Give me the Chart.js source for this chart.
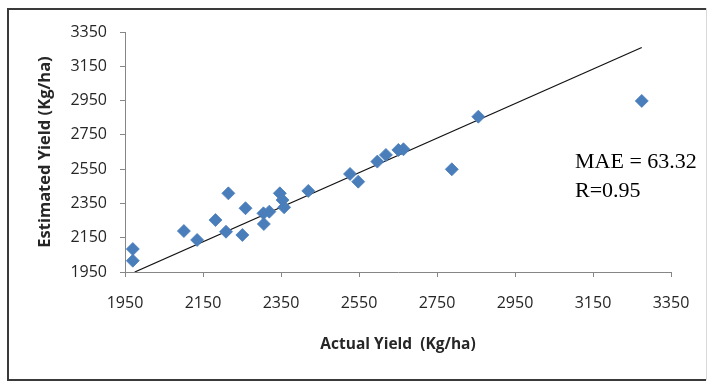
<!DOCTYPE html>
<html>
<head>
<meta charset="utf-8">
<script src="https://cdn.jsdelivr.net/npm/chart.js@4"></script>
<style>
  html, body { margin: 0; padding: 0; background: #fff; }
  #wrap { position: relative; width: 708px; height: 381px; }
</style>
</head>
<body>
<div id="wrap"><canvas id="yieldChart" width="708" height="381"></canvas></div>
<script>
const actualYield = [1970, 1970, 2101, 2135, 2182, 2209, 2215, 2251, 2259, 2305, 2306, 2320,
                     2347, 2354, 2358, 2420, 2527, 2548, 2597, 2619, 2651, 2664, 2788, 2856, 3275];
const estimatedYield = [2084, 2016, 2189, 2137, 2253, 2185, 2409, 2166, 2322, 2292, 2230, 2302,
                        2409, 2370, 2327, 2423, 2522, 2477, 2594, 2633, 2662, 2666, 2549, 2856, 2948];

// fitted line end points
const fitX = [1975, 3275];
const fitY = [1950, 3260];

const axisTicks = [1950, 2150, 2350, 2550, 2750, 2950, 3150, 3350];
const statLines = ['MAE = 63.32', 'R=0.95'];

const axisColor = '#868686';

const framePlugin = {
    id: 'frame',
    beforeDraw(chart) {
        const ctx = chart.ctx;
        ctx.save();
        ctx.fillStyle = '#fff';
        ctx.fillRect(0, 0, chart.width, chart.height);
        ctx.strokeStyle = '#d8d8d8';
        ctx.lineWidth = 1;
        ctx.beginPath();
        ctx.moveTo(706.5, 8);
        ctx.lineTo(706.5, 380);
        ctx.stroke();
        ctx.strokeStyle = '#3a3a3a';
        ctx.lineWidth = 2;
        ctx.beginPath();
        ctx.moveTo(706, 9);
        ctx.lineTo(8, 9);
        ctx.lineTo(8, 380);
        ctx.lineTo(706, 380);
        ctx.stroke();
        ctx.restore();
    },
    afterDraw(chart) {
        const ctx = chart.ctx;
        ctx.save();
        ctx.fillStyle = '#000';
        ctx.font = '22px "Liberation Serif", "Times New Roman", serif';
        ctx.textBaseline = 'alphabetic';
        ctx.fillText(statLines[0], 575, 168);
        ctx.fillText(statLines[1], 575, 197);
        ctx.restore();
    }
};

function axis(titleText, titleSize, extra) {
    return Object.assign({
        type: 'linear',
        min: 1950,
        max: 3350,
        afterBuildTicks: scale => {
            scale.ticks = axisTicks.map(v => ({ value: v }));
        },
        grid: {
            display: true,
            drawOnChartArea: false,
            drawTicks: true,
            tickLength: 5,
            color: axisColor
        },
        border: { display: true, color: axisColor, width: 1 },
        ticks: {
            color: '#262626',
            font: { family: '"Open Sans", sans-serif', size: 16 },
            callback: value => String(value)
        },
        title: {
            display: true,
            text: titleText,
            color: '#262626',
            font: { family: '"Open Sans", sans-serif', size: titleSize, weight: 'bold' }
        }
    }, extra);
}

const xAxis = axis('Actual Yield  (Kg/ha)', 15.5, {
    afterFit: scale => { scale.height = 109; }
});
xAxis.ticks.padding = 17;
xAxis.ticks.maxRotation = 0;
xAxis.title.padding = { top: 0, bottom: 27 };

const yAxis = axis('Estimated Yield (Kg/ha)', 16.5, {
    afterFit: scale => { scale.width = 125; }
});
yAxis.ticks.padding = 13;
yAxis.title.padding = { top: 35, bottom: 0 };

new Chart(document.getElementById('yieldChart'), {
    type: 'scatter',
    data: {
        datasets: [{
            label: 'Yield',
            data: actualYield.map((x, i) => ({ x, y: estimatedYield[i] })),
            pointStyle: 'rectRot',
            pointRadius: 6.5,
            pointHoverRadius: 6.5,
            backgroundColor: '#4a7ebb',
            borderColor: '#4a7ebb',
            borderWidth: 0.8
        }, {
            label: 'Fit',
            data: fitX.map((x, i) => ({ x, y: fitY[i] })),
            showLine: true,
            pointRadius: 0,
            borderColor: '#111',
            borderWidth: 1.2,
            fill: false
        }]
    },
    options: {
        responsive: false,
        animation: false,
        layout: { padding: { left: 0, right: 37, top: 32, bottom: 0 } },
        scales: { x: xAxis, y: yAxis },
        plugins: {
            legend: { display: false },
            tooltip: { enabled: false }
        }
    },
    plugins: [framePlugin]
});
</script>
</body>
</html>
